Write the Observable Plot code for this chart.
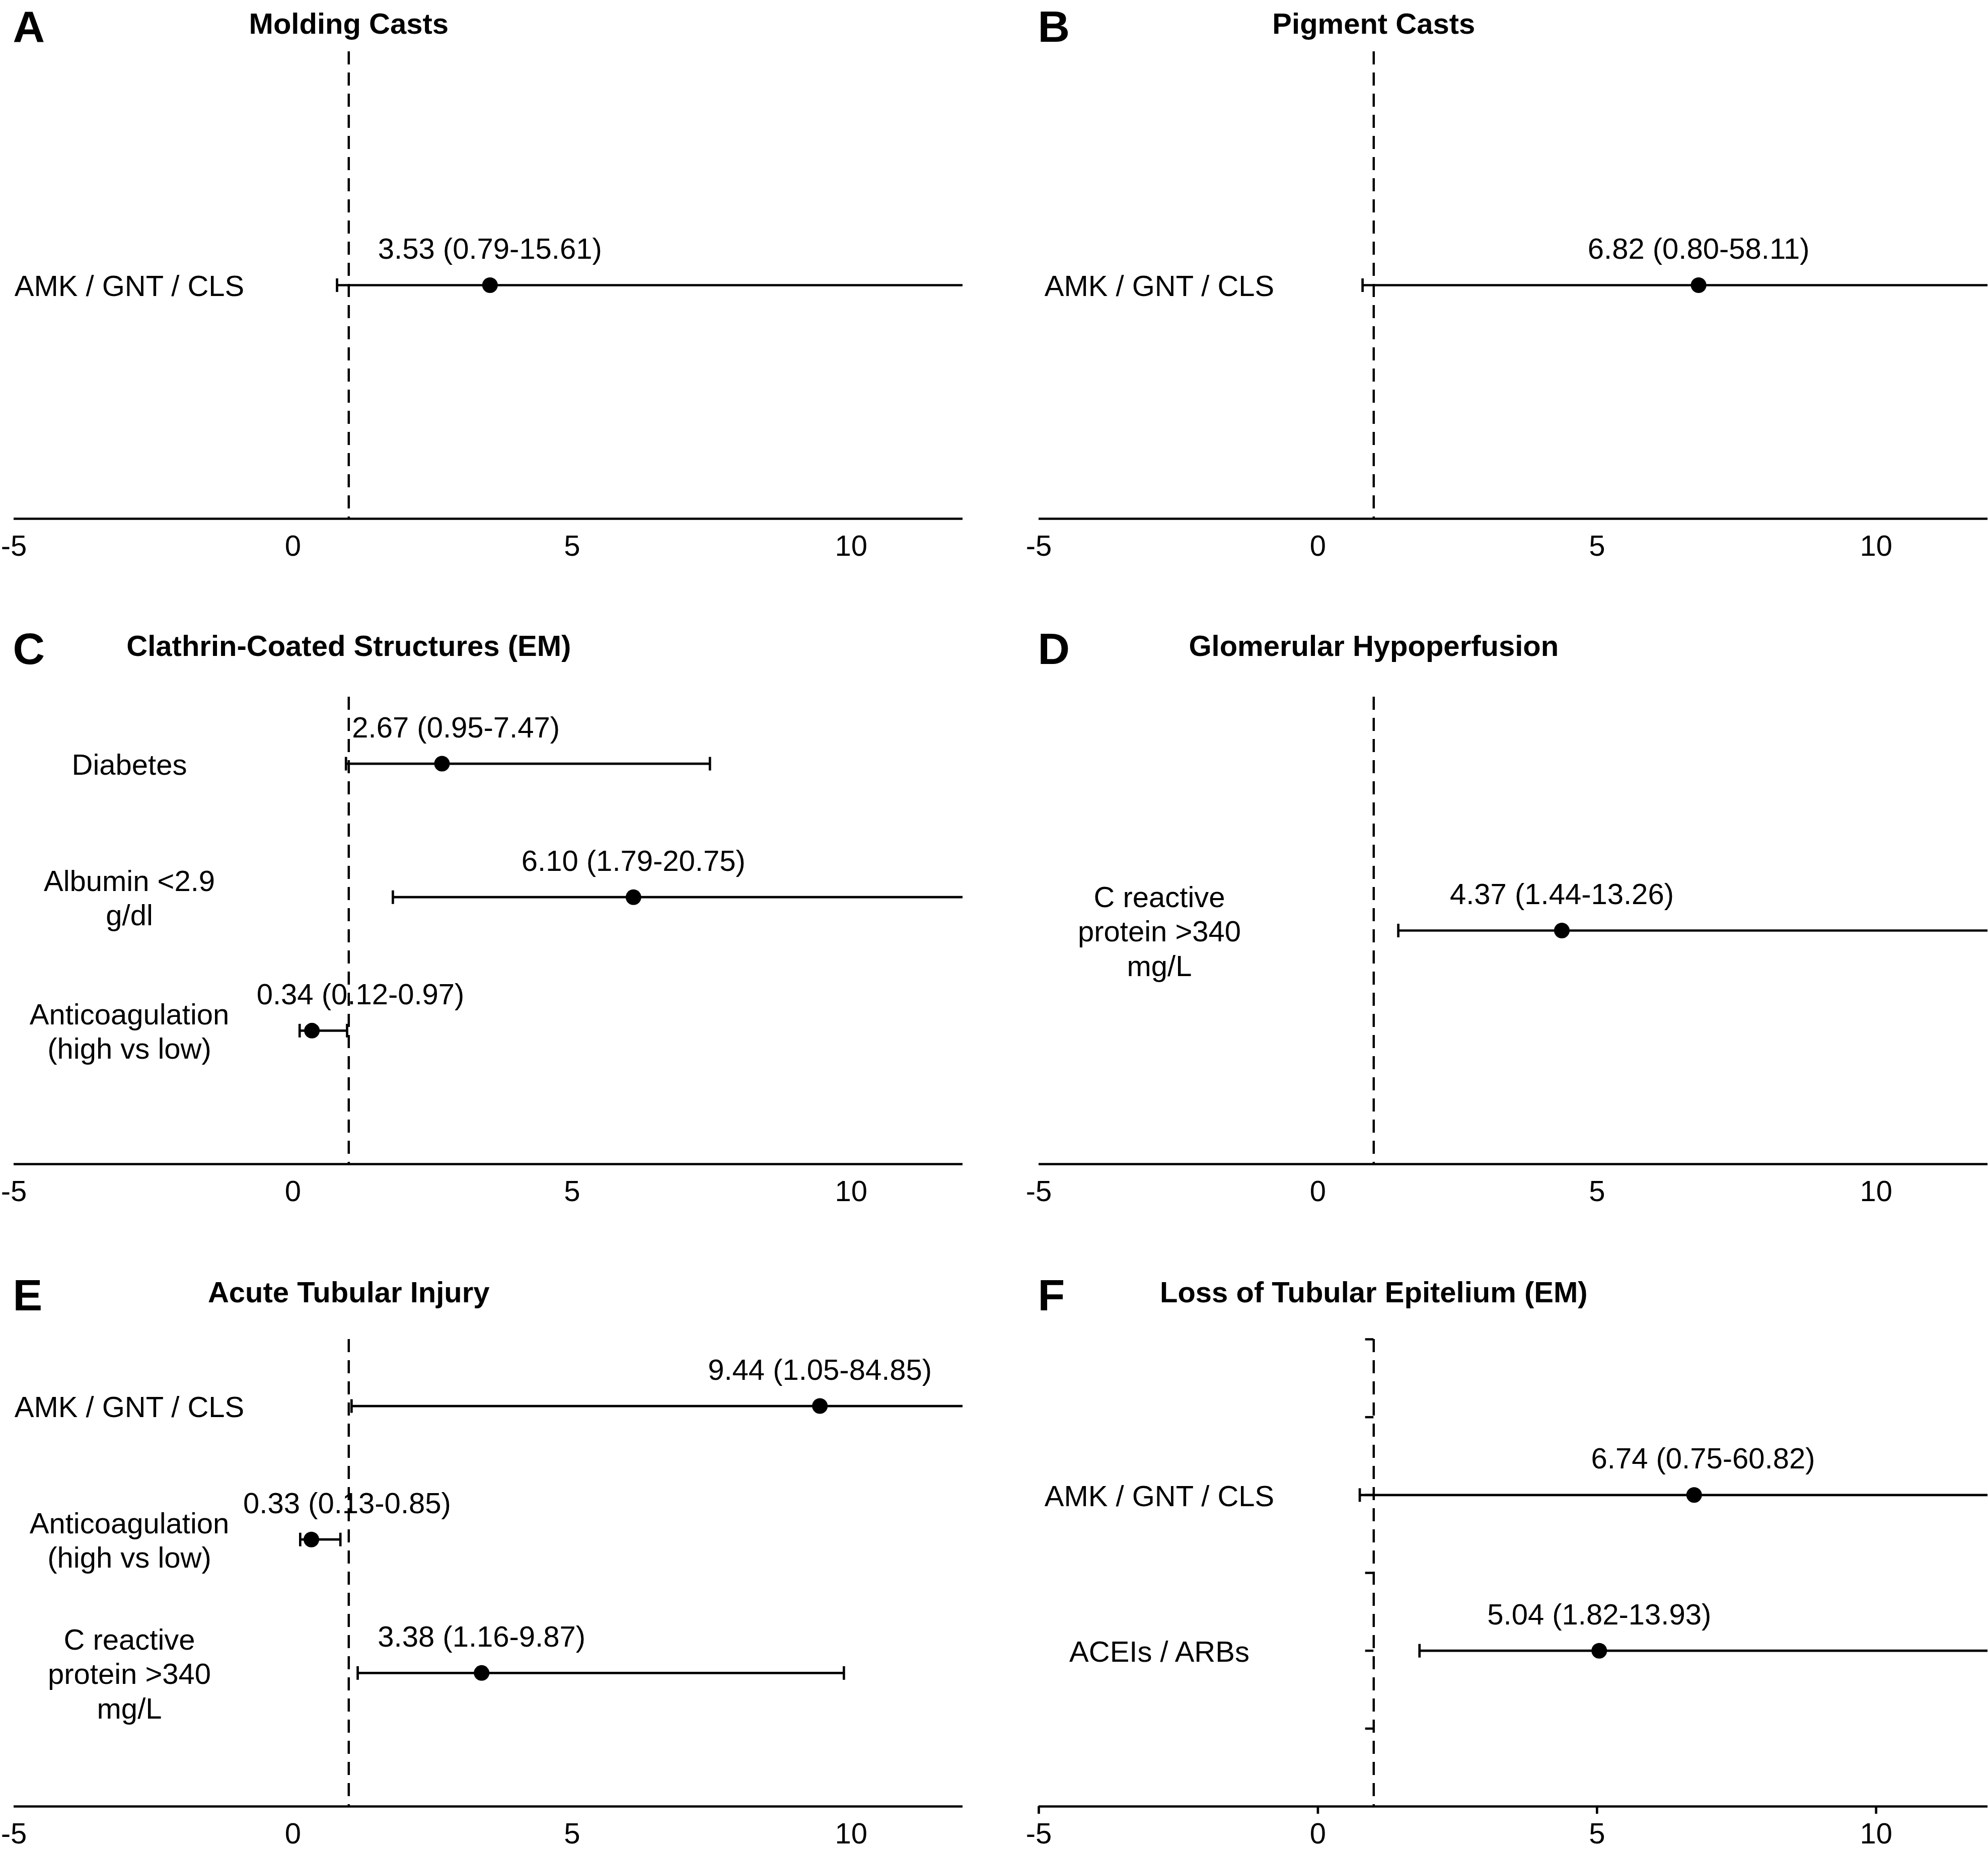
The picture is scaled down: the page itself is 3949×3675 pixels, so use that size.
<!DOCTYPE html>
<html><head><meta charset="utf-8">
<script src="https://cdn.jsdelivr.net/npm/d3@7"></script>
<script src="https://cdn.jsdelivr.net/npm/@observablehq/plot@0.6"></script>
<style>
html,body{margin:0;padding:0;background:#fff;}
#fig{position:relative;width:3949px;height:3675px;overflow:hidden;background:#fff;}
.panel{position:absolute;}
</style></head><body><div id="fig"></div>
<script>
// ---------- data ----------
const panelLetters = ["A","B","C","D","E","F"];
const panelTitles = ["Molding Casts","Pigment Casts","Clathrin-Coated Structures (EM)","Glomerular Hypoperfusion","Acute Tubular Injury","Loss of Tubular Epitelium (EM)"];
const rowLabels = [
  ["AMK / GNT / CLS"],
  ["AMK / GNT / CLS"],
  ["Diabetes","Albumin <2.9\ng/dl","Anticoagulation\n(high vs low)"],
  ["C reactive\nprotein >340\nmg/L"],
  ["AMK / GNT / CLS","Anticoagulation\n(high vs low)","C reactive\nprotein >340\nmg/L"],
  ["AMK / GNT / CLS","ACEIs / ARBs"]
];
const oddsRatio = [[3.53],[6.82],[2.67,6.10,0.34],[4.37],[9.44,0.33,3.38],[6.74,5.04]];
const ciLow     = [[0.79],[0.80],[0.95,1.79,0.12],[1.44],[1.05,0.13,1.16],[0.75,1.82]];
const ciHigh    = [[15.61],[58.11],[7.47,20.75,0.97],[13.26],[84.85,0.85,9.87],[60.82,13.93]];
const rowPos    = [[1],[1],[3,2,1],[1],[3,2,1],[2,1]];
const yMax      = [2,2,3.5,2,3.5,3];
const annotX    = [[3.53],[6.82],[2.92,6.10,1.21],[4.37],[9.44,0.97,3.38],[6.9,5.04]];
const xDomain   = [-5,12];
const xTicks    = [-5,0,5,10];
const refLine   = 1;
const fYTicks   = [0.5,1,1.5,2,2.5,3];

// ---------- layout ----------
const FONT = "'Liberation Sans', Arial, Helvetica, sans-serif";
const axisY = [1030, 2312, 3588];
const titleY = [48, 1284, 2568];
const colLeft = [0, 2036];
const colWidth = [1975, 1913];
const colML = 27;
const colMR = [63, 1];
const labelX = [-2.93, -2.84];
const TOP_OFF = 1100, H = 1180, FRAME = 928;
const LW = 4.7;

const capSymbol = {
  draw(ctx, size) {
    const r = Math.sqrt(size / Math.PI);
    ctx.moveTo(0, -r);
    ctx.lineTo(0, r);
  }
};

const fig = document.getElementById("fig");

panelTitles.forEach((title, i) => {
  const col = i % 2, row = Math.floor(i / 2);
  const rows = rowLabels[i].map((label, j) => ({
    label, y: rowPos[i][j], or: oddsRatio[i][j], low: ciLow[i][j], high: ciHigh[i][j], ax: annotX[i][j]
  }));
  const caps = rows.flatMap(d => [{x: d.low, y: d.y}, {x: d.high, y: d.y}]);
  const titleDy = titleY[row] - axisY[row] + FRAME;
  const isF = i === 5;

  const marks = [
    Plot.ruleX([refLine], {stroke: "black", strokeWidth: 4.5, strokeDasharray: "26,16"}),
    Plot.ruleY([0], {stroke: "black", strokeWidth: LW}),
    Plot.axisX({ticks: xTicks, anchor: "bottom", tickSize: isF ? 15 : 0, tickPadding: isF ? 17 : 32,
      fontSize: 58, tickFormat: d => String(d), strokeWidth: LW, fill: "black"}),
    Plot.ruleY(rows, {y: "y", x1: "low", x2: "high", stroke: "black", strokeWidth: LW, clip: true}),
    Plot.dot(caps, {x: "x", y: "y", symbol: capSymbol, r: 13.5, stroke: "black", fill: "none", strokeWidth: LW, clip: true}),
    Plot.dot(rows, {x: "or", y: "y", r: 15.5, fill: "black", stroke: "none"}),
    Plot.text(rows, {x: "ax", y: "y", dy: -71, fontSize: 58, fill: "black",
      text: d => `${d.or.toFixed(2)} (${d.low.toFixed(2)}-${d.high.toFixed(2)})`}),
    Plot.text(rows, {x: () => labelX[col], y: "y", text: "label", fontSize: 58, lineHeight: 1.18, fill: "black"}),
    Plot.text([title], {x: () => refLine, frameAnchor: "top", lineAnchor: "middle", dy: titleDy, fontSize: 58, fontWeight: "bold", fill: "black"}),
    Plot.text([panelLetters[i]], {frameAnchor: "top-left", lineAnchor: "middle", textAnchor: "start", dx: -2, dy: titleDy + 6, fontSize: 88, fontWeight: "bold", fill: "black"})
  ];
  if (isF) {
    marks.push(Plot.ruleY(fYTicks, {y: d => d, x1: () => 0.85, x2: () => refLine, stroke: "black", strokeWidth: 4.5}));
  }

  const chart = Plot.plot({
    width: colWidth[col],
    height: H,
    marginLeft: colML,
    marginRight: colMR[col],
    marginTop: TOP_OFF - FRAME,
    marginBottom: H - TOP_OFF,
    x: {domain: xDomain, axis: null},
    y: {domain: [0, yMax[i]], axis: null},
    style: {fontFamily: FONT, background: "white", color: "black", overflow: "visible"},
    marks
  });
  const wrap = document.createElement("div");
  wrap.className = "panel";
  wrap.style.left = colLeft[col] + "px";
  wrap.style.top = (axisY[row] - TOP_OFF) + "px";
  wrap.appendChild(chart);
  fig.appendChild(wrap);
});
</script>
</body></html>
